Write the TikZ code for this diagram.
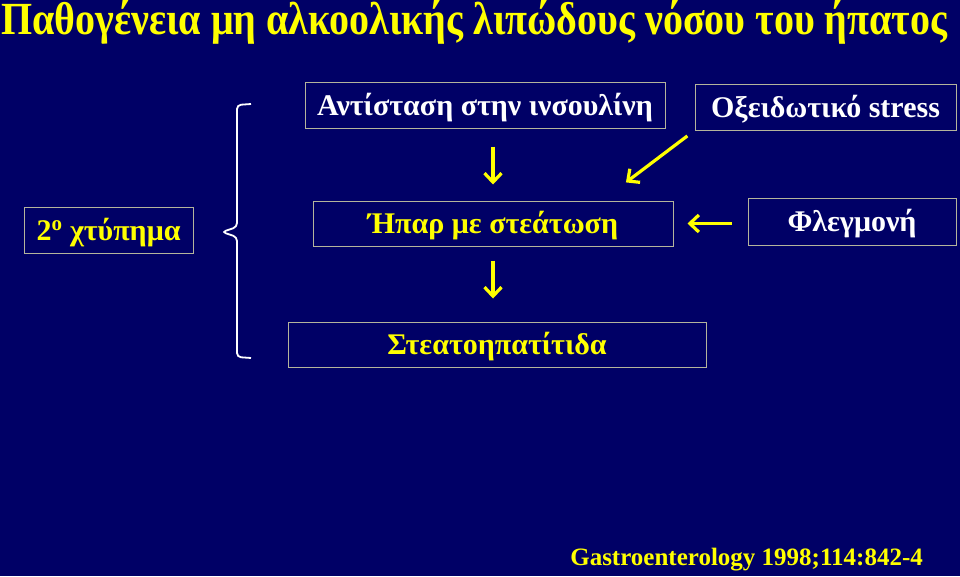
\documentclass[tikz,border=0pt]{standalone}
\usepackage{fontspec}
\setmainfont{Liberation Serif}
\newfontfamily\titlefont[FakeStretch=0.87]{Liberation Serif}
\usetikzlibrary{arrows.meta}
\definecolor{navy}{HTML}{000066}
\definecolor{frame}{HTML}{B4B49C}
\definecolor{gold}{HTML}{FFFF00}

\begin{document}
\begin{tikzpicture}[x=1pt,y=-1pt,box/.style={draw=frame,line width=1pt,minimum height=46pt,inner sep=0pt,text height=22pt,text depth=2pt,font=\bfseries\fontsize{30}{30}\selectfont},arr/.style={draw=gold,line width=3.2pt,-{Straight Barb[length=9pt,width=17pt]}},bracket/.style={draw=white,line width=1.8pt,rounded corners=4pt}]
\fill[navy] (0,0) rectangle (960,576);
\useasboundingbox (0,0) rectangle (960,576);
\node[anchor=base west,text=gold,inner sep=0pt,text height=32pt,font=\titlefont\bfseries\fontsize{46}{46}\selectfont] (title) at (1,34) {Παθογένεια μη αλκοολικής λιπώδους νόσου του ήπατος};
\node[box,text=white,minimum width=360pt] (ins) at (485,105) {Αντίσταση στην ινσουλίνη};
\node[box,text=white,minimum width=261pt] (ox) at (825.5,107) {Οξειδωτικό stress};
\node[box,text=gold,minimum width=169pt] (hit) at (108.5,230) {2\textsuperscript{ο} χτύπημα};
\node[box,text=gold,minimum width=360pt,minimum height=45pt] (liver) at (493,223.5) {Ήπαρ με στεάτωση};
\node[box,text=white,minimum width=208pt,minimum height=47pt] (flegm) at (852,221.5) {Φλεγμονή};
\node[box,text=gold,minimum width=418pt,minimum height=45pt] (steato) at (497,344.5) {Στεατοηπατίτιδα};
\draw[bracket] (251,104) -- (237,105) -- (237,227) -- (222,232) -- (237,237) -- (237,357) -- (251,358);
\draw[arr,shorten <=18pt,shorten >=16pt] (liver.north |- ins.south) -- (liver.north);
\draw[arr,shorten <=14pt,shorten >=23pt] (liver.south) -- (liver.south |- steato.north);
\draw[arr,shorten <=16pt,shorten >=14pt] (flegm.west |- liver.east) -- (liver.east);
\draw[arr,shorten <=9pt,shorten >=30pt] (ox.south west) -- ([xshift=109pt]liver.north);
\node[anchor=base east,text=gold,inner sep=0pt,font=\bfseries\fontsize{25}{25}\selectfont] (cite) at (923,565) {Gastroenterology 1998;114:842-4};
\end{tikzpicture}
\end{document}
